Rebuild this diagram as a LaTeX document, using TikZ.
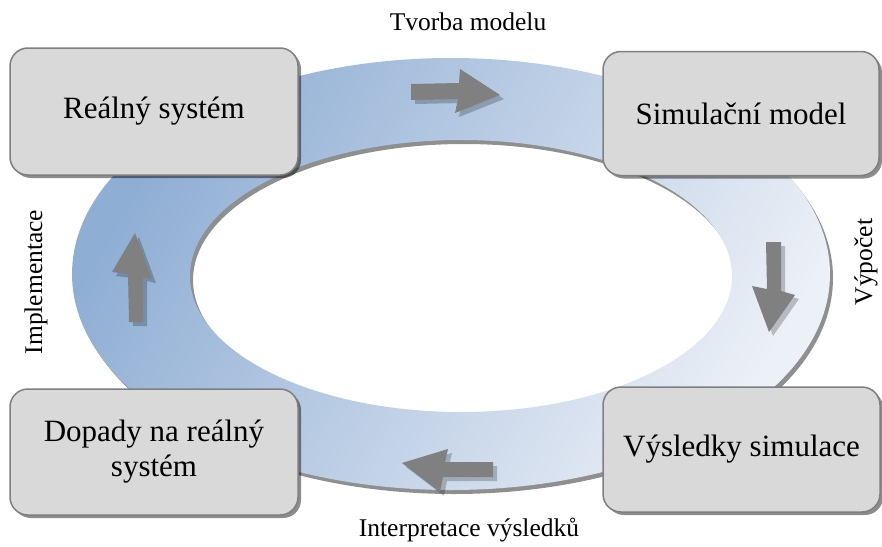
\documentclass[tikz,border=0pt]{standalone}
\usepackage{fontspec}
\setmainfont{Liberation Serif}
\usetikzlibrary{shadows}
\definecolor{ringdark}{RGB}{143,174,212}
\definecolor{ringlight}{RGB}{236,240,247}
\definecolor{boxfill}{RGB}{217,217,217}
\definecolor{boxline}{RGB}{127,127,127}
\definecolor{arrowgray}{RGB}{128,128,128}
\begin{document}
\begin{tikzpicture}[x=1pt,y=-1pt,
  box/.style={draw=boxline, line width=1.5pt, fill=boxfill, rounded corners=18pt,
    inner sep=0pt, align=center, font=\fontsize{31}{35}\selectfont,
    drop shadow={shadow xshift=3pt, shadow yshift=-3pt, fill=black, opacity=0.45}},
  lbl/.style={font=\fontsize{25.5}{30}\selectfont, inner sep=0pt},
  blockarrow/.style={fill=arrowgray,
    drop shadow={shadow xshift=4pt, shadow yshift=-4pt, fill=black, opacity=0.22}}]
\useasboundingbox (0,0) rectangle (882,546);
% ring shadow
\fill[black!55, opacity=0.8, even odd rule, shift={(3,4)}]
  (451,274) ellipse [x radius=379pt, y radius=216pt]
  (461,276) ellipse [x radius=271pt, y radius=136pt];
% ring
\shade[even odd rule, top color=ringdark, bottom color=ringlight, shading angle=60]
  (451,274) ellipse [x radius=379pt, y radius=216pt]
  (461,276) ellipse [x radius=271pt, y radius=136pt];
% block arrows
\fill[blockarrow] (411,84) -- (459,83) -- (460,69) -- (500,95) -- (455,113) -- (458,99) -- (411,100) -- cycle;
\fill[blockarrow] (766,242) -- (781,242) -- (781,291) -- (795,295) -- (769,332) -- (752,286) -- (767,289) -- cycle;
\fill[blockarrow] (402,463) -- (448,449) -- (445,462) -- (493,462) -- (493,477) -- (443,477) -- (440,492) -- cycle;
\fill[blockarrow] (135,233) -- (152,279) -- (143,277) -- (143,322) -- (129,322) -- (128,274) -- (112,272) -- cycle;
% boxes
\node[box, minimum width=288pt, minimum height=127pt] (real) at (154,111.5) {Reálný systém};
\node[box, minimum width=276pt, minimum height=124pt] (sim) at (741,113.5) {Simulační model};
\node[box, minimum width=288pt, minimum height=126pt] (dop) at (154,452) {Dopady na reálný\\systém};
\node[box, minimum width=277pt, minimum height=125pt] (vys) at (741.5,449.5) {Výsledky simulace};
% labels
\node[lbl] (l1) at (468,22) {Tvorba modelu};
\node[lbl, rotate=90] (l2) at (866,262) {Výpočet};
\node[lbl] (l3) at (469,530) {Interpretace výsledků};
\node[lbl, rotate=90] (l4) at (36,282) {Implementace};
\end{tikzpicture}
\end{document}
